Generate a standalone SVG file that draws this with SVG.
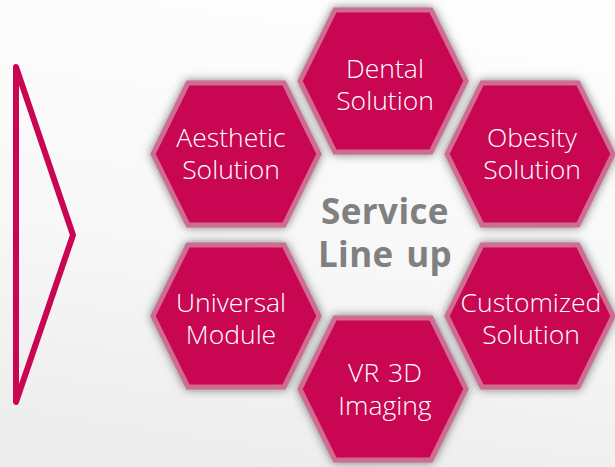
<svg xmlns="http://www.w3.org/2000/svg" width="615" height="467" viewBox="0 0 615 467">
<style>
.hex{fill:#c80652;stroke:#d06c92;stroke-width:5;stroke-linejoin:miter;filter:url(#sh)}
.t{font-family:"Open Sans","Noto Sans","Liberation Sans",sans-serif;font-size:26.5px;font-weight:300;fill:#fff;text-anchor:middle}
.c{font-family:"Open Sans","Noto Sans","Liberation Sans",sans-serif;font-size:35px;font-weight:700;letter-spacing:.4px;word-spacing:3px;fill:#808080;text-anchor:middle}
</style>
<defs>
<linearGradient id="bg" x1="0.6" y1="0" x2="0.4" y2="1"><stop offset="0" stop-color="#ffffff"/><stop offset="0.55" stop-color="#f9f9f9"/><stop offset="1" stop-color="#eeeeee"/></linearGradient>
<pattern id="dots" width="4" height="4" patternUnits="userSpaceOnUse"><rect x="0" y="0" width="2" height="2" fill="#000" opacity="0.012"/><rect x="2" y="2" width="2" height="2" fill="#000" opacity="0.012"/></pattern>
<filter id="sh" x="-20%" y="-20%" width="140%" height="140%" color-interpolation-filters="sRGB"><feDropShadow dx="0" dy="0" stdDeviation="5" flood-color="#000" flood-opacity="0.5"/></filter>
<polygon id="h" points="-83,0 -48,-71 48,-71 83,0 48,71 -48,71"/>
</defs>
<rect width="615" height="467" fill="url(#bg)"/>
<rect width="615" height="467" fill="url(#dots)"/>
<g id="arrow"><path d="M16 67 L73 235 L16 402 Z" fill="none" stroke="#c80652" stroke-width="6" stroke-linejoin="round"/></g>
<g id="connectors"></g>
<g id="aesthetic"><use href="#h" class="hex" x="236" y="154"/><text class="t"><tspan x="231" y="147">Aesthetic</tspan><tspan x="231" y="179">Solution</tspan></text></g>
<g id="universal"><use href="#h" class="hex" x="236" y="316"/><text class="t"><tspan x="231" y="312">Universal</tspan><tspan x="231" y="344">Module</tspan></text></g>
<g id="obesity"><use href="#h" class="hex" x="530" y="154"/><text class="t"><tspan x="532" y="147">Obesity</tspan><tspan x="532" y="179">Solution</tspan></text></g>
<g id="customized"><use href="#h" class="hex" x="530" y="316"/><text class="t"><tspan x="531" y="312">Customized</tspan><tspan x="531" y="344">Solution</tspan></text></g>
<g id="dental"><use href="#h" class="hex" x="383" y="81"/><text class="t"><tspan x="385" y="78">Dental</tspan><tspan x="385" y="110">Solution</tspan></text></g>
<g id="vr"><use href="#h" class="hex" x="383" y="389"/><text class="t"><tspan x="385" y="382" word-spacing="2">VR 3D</tspan><tspan x="385" y="415">Imaging</tspan></text></g>
<g id="center"><text class="c"><tspan x="385" y="224">Service</tspan><tspan x="385" y="267">Line up</tspan></text></g>
</svg>
